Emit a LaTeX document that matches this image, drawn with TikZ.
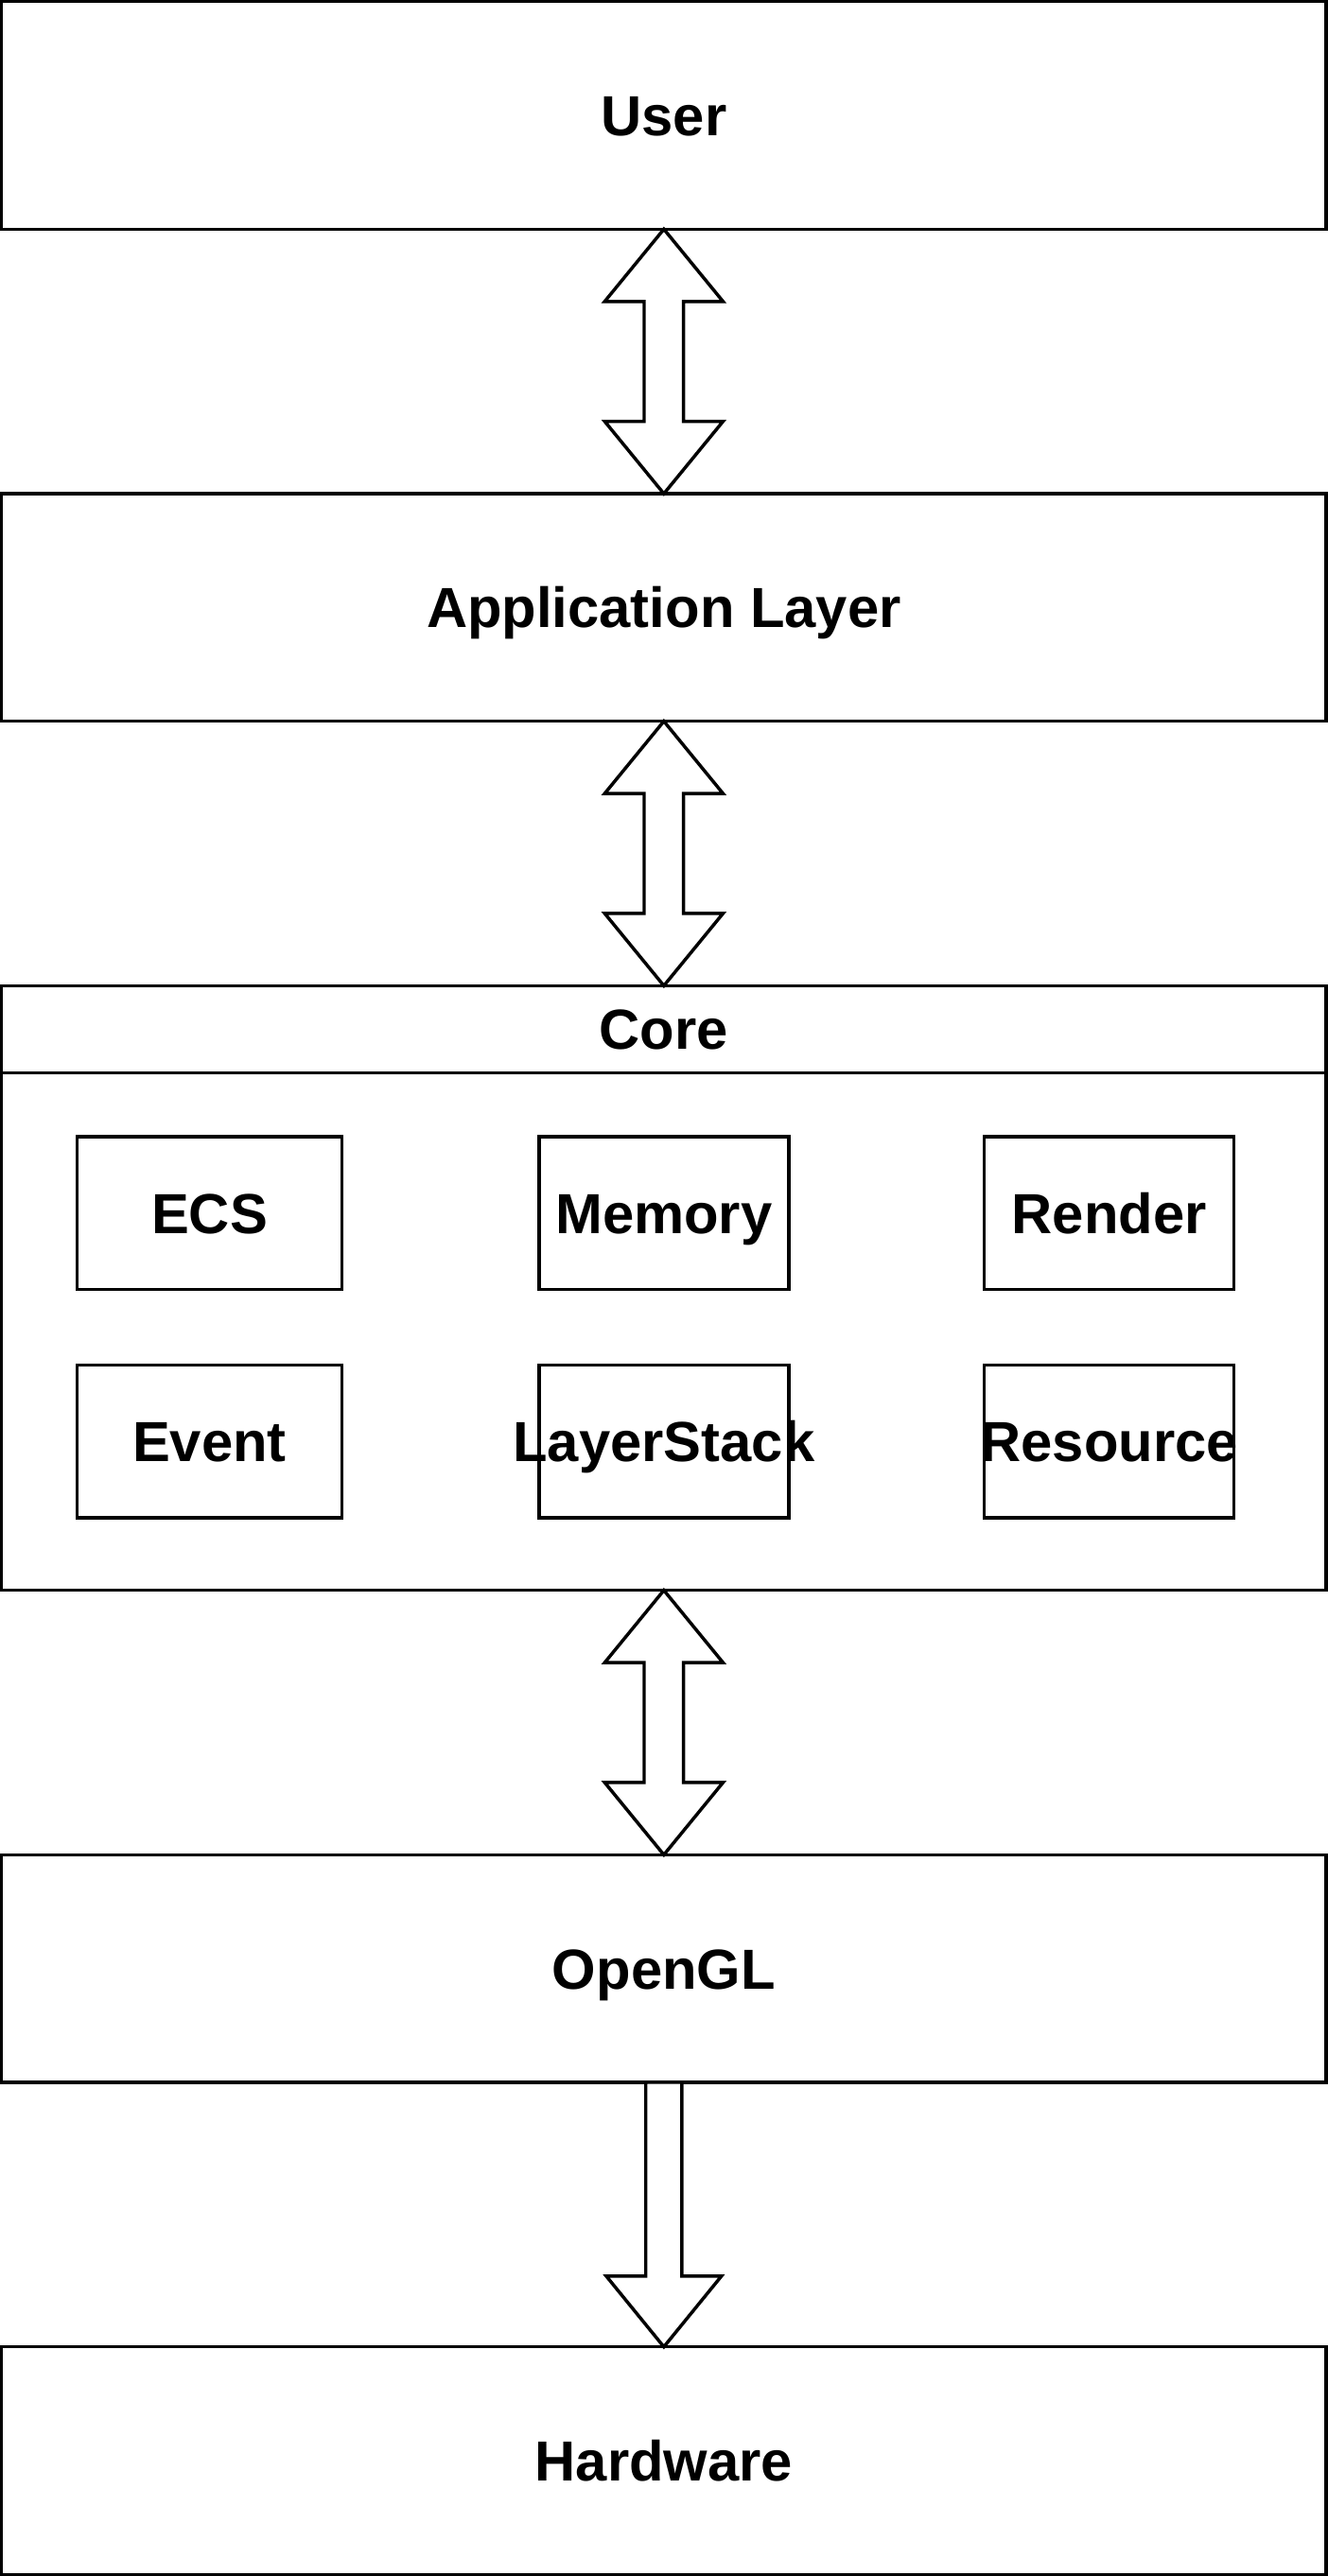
\documentclass[tikz,border=0pt]{standalone}
\usepackage{fontspec}
\setmainfont{Liberation Sans}
\usetikzlibrary{positioning}

\tikzset{
	layer/.style={draw, line width=1pt, outer sep=0pt, inner sep=0pt, minimum width=403pt, minimum height=69.25pt, text height=12.3pt, text depth=0pt, font=\fontsize{17.2}{20}\selectfont\bfseries},
	module/.style={layer, minimum width=76pt, minimum height=46.5pt},
	hollow/.style={draw, line width=1pt, fill=white}
}

% labels wider than their box run over its sides
\newcommand{\overrun}[1]{\makebox[0pt]{#1}}

\newcommand{\twoway}[2]{\draw[hollow] (#1.south) -- ++(18pt,-22pt) -- ++(-12pt,0) -- ++(0,-36.5pt) -- ++(12pt,0) -- (#2.north) -- ++(-18pt,22pt) -- ++(12pt,0) -- ++(0,36.5pt) -- ++(-12pt,0) -- cycle;}
\newcommand{\oneway}[2]{\draw[hollow] ([xshift=-5.5pt]#1.south) -- ++(0,-59pt) -- ++(-12pt,0) -- (#2.north) -- ++(17.5pt,21.5pt) -- ++(-12pt,0) -- ([xshift=5.5pt]#1.south) -- cycle;}

\begin{document}
\begin{tikzpicture}[node distance=80.5pt]

\useasboundingbox (-0.5pt,0.5pt) rectangle (403.5pt,-783.5pt);

\node[layer, anchor=north west](user) at (0,0){User};
\node[layer, below = of user](app){Application Layer};

\node[layer, minimum height=26.5pt, below = of app](core){Core};
\node[layer, minimum height=157.5pt, below = 0pt of core](corebody){};

\node[module, minimum width=80.5pt, below right = 19.5pt and 23pt of corebody.north west](ecs){ECS};
\node[module, right = 60pt of ecs](memory){Memory};
\node[module, right = 59.5pt of memory](render){Render};
\node[module, minimum width=80.5pt, below = 23pt of ecs](event){Event};
\node[module, below = 23pt of memory](layerstack){\overrun{LayerStack}};
\node[module, below = 23pt of render](resource){\overrun{Resource}};

\node[layer, below = of corebody](opengl){OpenGL};
\node[layer, below = of opengl](hardware){Hardware};

\twoway{user}{app};
\twoway{app}{core};
\twoway{corebody}{opengl};
\oneway{opengl}{hardware};
\end{tikzpicture}
\end{document}
